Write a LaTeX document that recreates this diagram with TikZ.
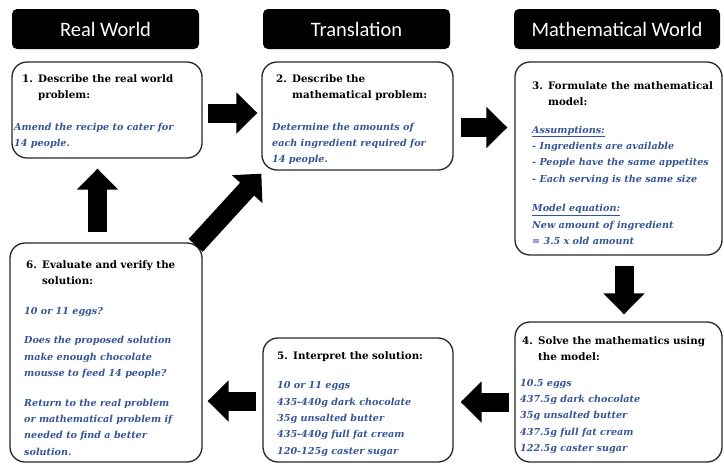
\documentclass[tikz,border=0pt]{standalone}
\usepackage{fontspec}
\setmainfont{DejaVu Serif}
\newfontfamily\headfont{Carlito}
\usetikzlibrary{arrows.meta,calc}
\definecolor{txtblue}{RGB}{52,84,150}
\begin{document}
\begin{tikzpicture}[x=1pt,y=-1pt,
  header/.style={fill=black,rounded corners=5pt,inner sep=0pt,text=white,font=\headfont\fontsize{20.5}{22}\selectfont},
  box/.style={draw=black!85,line width=1.3pt,rounded corners=15pt,inner sep=0pt},
  txt/.style={anchor=base west,inner sep=0pt,font=\fontsize{9.6}{16.3}\selectfont},
  barrow/.style={line width=19pt,black,-{Triangle[length=21pt,width=40pt]}}]
\useasboundingbox (0,0) rectangle (724,464);
\newcommand{\ttl}[1]{{\fontsize{10.3}{16.3}\selectfont\bfseries #1}}
\newcommand{\bl}[1]{{\color{txtblue}\bfseries\itshape #1}}
\newcommand{\num}[1]{\makebox[16pt][l]{\fontsize{10.3}{16.3}\selectfont\bfseries #1}}
% headers
\node[header,minimum width=187pt,minimum height=40pt] (h1) at (105.5,29) {Real World};
\node[header,minimum width=187pt,minimum height=40pt] (h2) at (356.5,29) {Translation};
\node[header,minimum width=206pt,minimum height=40pt] (h3) at (617,29) {Mathematical World};
% boxes
\node[box,minimum width=190pt,minimum height=96pt] (b1) at (107,110) {};
\node[box,minimum width=191pt,minimum height=108pt] (b2) at (357.5,116) {};
\node[box,minimum width=207pt,minimum height=193pt] (b3) at (618.5,158.5) {};
\node[box,minimum width=207pt,minimum height=140pt] (b4) at (618.5,392) {};
\node[box,minimum width=190pt,minimum height=124pt] (b5) at (358,400) {};
\node[box,minimum width=192pt,minimum height=219pt] (b6) at (106,352.5) {};
% texts
\node[txt] (t1) at (14,82) {\parbox[t]{210pt}{\hspace*{8pt}\num{1.}\ttl{Describe the real world}\\
\hspace*{24pt}\ttl{problem:}\\[15.5pt]
\bl{Amend the recipe to cater for}\\
\bl{14 people.}}};
\node[txt] (t2) at (272,82) {\parbox[t]{210pt}{\hspace*{4pt}\num{2.}\ttl{Describe the}\\
\hspace*{20pt}\ttl{mathematical problem:}\\[15.5pt]
\bl{Determine the amounts of}\\
\bl{each ingredient required for}\\
\bl{14 people.}}};
\node[txt] (t3) at (532,89) {\parbox[t]{210pt}{\num{3.}\ttl{Formulate the mathematical}\\
\hspace*{16pt}\ttl{model:}\\[11.5pt]
\bl{\underline{Assumptions:}}\\
\bl{- Ingredients are available}\\
\bl{- People have the same appetites}\\
\bl{- Each serving is the same size}\\[13.5pt]
\bl{\underline{Model equation:}}\\
\bl{New amount of ingredient}\\
\bl{= 3.5 x old amount}}};
\node[txt] (t4) at (520,344) {\parbox[t]{210pt}{\hspace*{2pt}\num{4.}\ttl{Solve the mathematics using}\\
\hspace*{18pt}\ttl{the model:}\\[9.5pt]
\bl{10.5 eggs}\\
\bl{437.5g dark chocolate}\\
\bl{35g unsalted butter}\\
\bl{437.5g full fat cream}\\
\bl{122.5g caster sugar}}};
\node[txt] (t5) at (277,359) {\parbox[t]{210pt}{\num{5.}\ttl{Interpret the solution:}\\[13.5pt]
\bl{10 or 11 eggs}\\
\bl{435-440g dark chocolate}\\
\bl{35g unsalted butter}\\
\bl{435-440g full fat cream}\\
\bl{120-125g caster sugar}}};
\node[txt] (t6) at (24,268) {\parbox[t]{210pt}{\hspace*{2pt}\num{6.}\ttl{Evaluate and verify the}\\
\hspace*{18pt}\ttl{solution:}\\[13.5pt]
\bl{10 or 11 eggs?}\\[13.5pt]
\bl{Does the proposed solution}\\
\bl{make enough chocolate}\\
\bl{mousse to feed 14 people?}\\[13.5pt]
\bl{Return to the real problem}\\
\bl{or mathematical problem if}\\
\bl{needed to find a better}\\
\bl{solution.}}};
% arrows
\draw[barrow] ($(b1.east)+(5,3)$) -- ($(b1.east -| b2.west)+(-4,3)$);
\draw[barrow] ($(b2.east)+(7,11.5)$) -- ($(b2.east -| b3.west)+(-7,11.5)$);
\draw[barrow] ($(b3.south)+(5.5,10)$) -- ($(b4.north)+(5.5,-7)$);
\draw[barrow] ($(b4.west)+(-5,10)$) -- ($(b4.west -| b5.east)+(7,10)$);
\draw[barrow] ($(b5.west)+(-6,1)$) -- ($(b5.west -| b6.east)+(5,1)$);
\draw[barrow] ($(b6.north)+(-8.5,-10)$) -- ($(b1.south)+(-9.5,10)$);
\draw[barrow] ($(b6.north east)+(-7,3)$) -- ($(b2.south west)+(0,3)$);
\end{tikzpicture}
\end{document}
